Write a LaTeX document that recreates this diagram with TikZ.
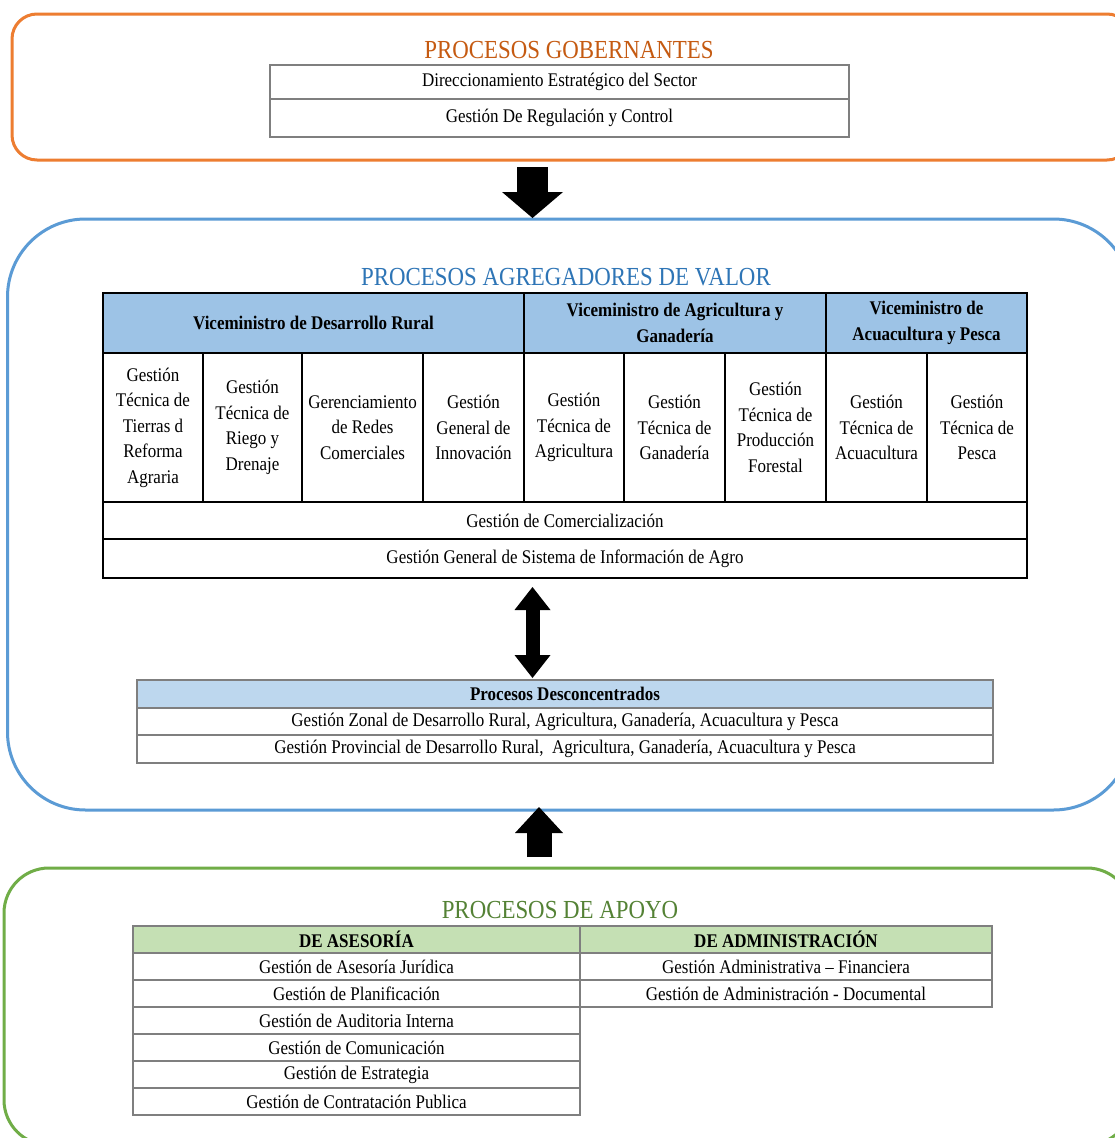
\documentclass[tikz,border=0pt]{standalone}
\usepackage{fontspec}
\setmainfont{Liberation Serif}[FakeStretch=0.88]
\usetikzlibrary{arrows.meta}
\usetikzlibrary{positioning}

\definecolor{naranja}{HTML}{ED7D31}
\definecolor{naranjatxt}{HTML}{C55A11}
\definecolor{azul}{HTML}{5B9BD5}
\definecolor{azultxt}{HTML}{2E75B6}
\definecolor{verde}{HTML}{70AD47}
\definecolor{verdetxt}{HTML}{548235}
\definecolor{cabazul}{HTML}{9DC3E6}
\definecolor{cabceleste}{HTML}{BDD7EE}
\definecolor{cabverde}{HTML}{C5E0B4}
\definecolor{bordegris}{HTML}{7F7F7F}

\newcommand{\letra}{\fontsize{19.3}{25.5}\selectfont}
\newcommand{\letratit}{\fontsize{26}{30}\selectfont}

\begin{document}
\begin{tikzpicture}[x=1pt, y=-1pt,
    marco/.style={line width=3pt, inner sep=0pt, outer sep=0pt, anchor=north west},
    titulo/.style={font=\letratit, inner sep=0pt},
    celda/.style={draw=black, line width=1.3pt, inner sep=2pt, outer sep=0pt, anchor=north west, align=center, font=\letra},
    celdagris/.style={celda, draw=bordegris},
    flechabaja/.style={line width=31pt, -{Triangle[width=61pt,length=26pt,line width=0pt]}},
    flechadoble/.style={line width=14pt, {Triangle[width=36pt,length=23pt,line width=0pt]}-{Triangle[width=36pt,length=23pt,line width=0pt]}},
    flechasube/.style={line width=25pt, -{Triangle[width=48pt,length=26pt,line width=0pt]}}]

    \path[use as bounding box, fill=white] (0,0) rectangle (1114,1138);

    % Draw the three process frames
    \node[marco, draw=naranja, rounded corners=25pt, minimum width=1120pt, minimum height=146pt] (gob) at (12,14) {};
    \node[marco, draw=azul, rounded corners=78pt, minimum width=1124pt, minimum height=591pt] (agr) at (7.5,219) {};
    \node[marco, draw=verde, rounded corners=45pt, minimum width=1128pt, minimum height=277pt] (apo) at (4,868) {};

    % Titles
    \node[titulo, text=naranjatxt] (tgob) at (569,50) {PROCESOS GOBERNANTES};
    \node[titulo, text=azultxt] (tagr) at (566,277) {PROCESOS AGREGADORES DE VALOR};
    \node[titulo, text=verdetxt] (tapo) at (560,910) {PROCESOS DE APOYO};

    % Procesos gobernantes
    \node[celdagris, minimum width=579pt, minimum height=34pt] (dir) at (270,65) {Direccionamiento Estratégico del Sector};
    \node[celdagris, minimum width=579pt, minimum height=38pt] (reg) at (dir.south west) {Gestión De Regulación y Control};

    % Viceministerios
    \foreach \nom/\xa/\an/\txt in {vdr/103/421/{Viceministro de Desarrollo Rural},
        vag/524/302/{Viceministro de Agricultura y\\Ganadería},
        vap/826/201/{Viceministro de\\Acuacultura y Pesca}} {
        \node[celda, fill=cabazul, font=\letra\bfseries, minimum width=\an pt, minimum height=60pt] (\nom) at (\xa,293) {\txt};
    }

    % Gestiones tecnicas
    \foreach \i/\xa/\an/\txt in {1/103/100/{Gestión\\Técnica de\\Tierras d\\Reforma\\Agraria},
        2/203/99/{Gestión\\Técnica de\\Riego y\\Drenaje},
        3/302/121/{Gerenciamiento\\de Redes\\Comerciales},
        4/423/101/{Gestión\\General de\\Innovación},
        5/524/100/{Gestión\\Técnica de\\Agricultura},
        6/624/101/{Gestión\\Técnica de\\Ganadería},
        7/725/101/{Gestión\\Técnica de\\Producción\\Forestal},
        8/826/101/{Gestión\\Técnica de\\Acuacultura},
        9/927/100/{Gestión\\Técnica de\\Pesca}} {
        \node[celda, minimum width=\an pt, minimum height=149pt] (c\i) at (\xa,353) {\txt};
    }

    \node[celda, minimum width=924pt, minimum height=37pt] (comer) at (c1.south west) {Gestión de Comercialización};
    \node[celda, minimum width=924pt, minimum height=39pt] (sinfo) at (comer.south west) {Gestión General de Sistema de Información de Agro};

    % Procesos desconcentrados
    \node[celdagris, fill=cabceleste, font=\letra\bfseries, minimum width=856pt, minimum height=28pt] (dcab) at (137,680) {Procesos Desconcentrados};
    \node[celdagris, minimum width=856pt, minimum height=27pt] (dzon) at (dcab.south west) {Gestión Zonal de Desarrollo Rural, Agricultura, Ganadería, Acuacultura y Pesca};
    \node[celdagris, minimum width=856pt, minimum height=28pt] (dprov) at (dzon.south west) {Gestión Provincial de Desarrollo Rural,\ \ Agricultura, Ganadería, Acuacultura y Pesca};

    % Procesos de apoyo
    \node[celdagris, fill=cabverde, font=\letra\bfseries, minimum width=447pt, minimum height=27pt] (hase) at (133,926) {DE ASESORÍA};
    \node[celdagris, fill=cabverde, font=\letra\bfseries, minimum width=412pt, minimum height=27pt] (hadm) at (hase.north east) {DE ADMINISTRACIÓN};

    \foreach \i/\ya/\txt in {1/953/{Gestión de Asesoría Jurídica},
        2/980/{Gestión de Planificación},
        3/1007/{Gestión de Auditoria Interna},
        4/1034/{Gestión de Comunicación},
        5/1061/{Gestión de Estrategia},
        6/1088/{Gestión de Contratación Publica}} {
        \node[celdagris, minimum width=447pt, minimum height=27pt] (a\i) at (133,\ya) {\txt};
    }
    \node[celdagris, minimum width=412pt, minimum height=27pt] (b1) at (hadm.south west) {Gestión Administrativa -- Financiera};
    \node[celdagris, minimum width=412pt, minimum height=27pt] (b2) at (b1.south west) {Gestión de Administración - Documental};

    % Block arrows
    \coordinate (eje) at (532.5,0);
    \coordinate (ejeb) at (539,0);
    \draw[flechabaja] ([yshift=-7pt]gob.south -| eje) -- ([yshift=1pt]agr.north -| eje);
    \draw[flechadoble] ([yshift=-9pt]sinfo.south -| eje) -- ([yshift=2pt]dcab.north -| eje);
    \draw[flechasube] ([yshift=11pt]apo.north -| ejeb) -- ([yshift=3pt]agr.south -| ejeb);

\end{tikzpicture}
\end{document}
